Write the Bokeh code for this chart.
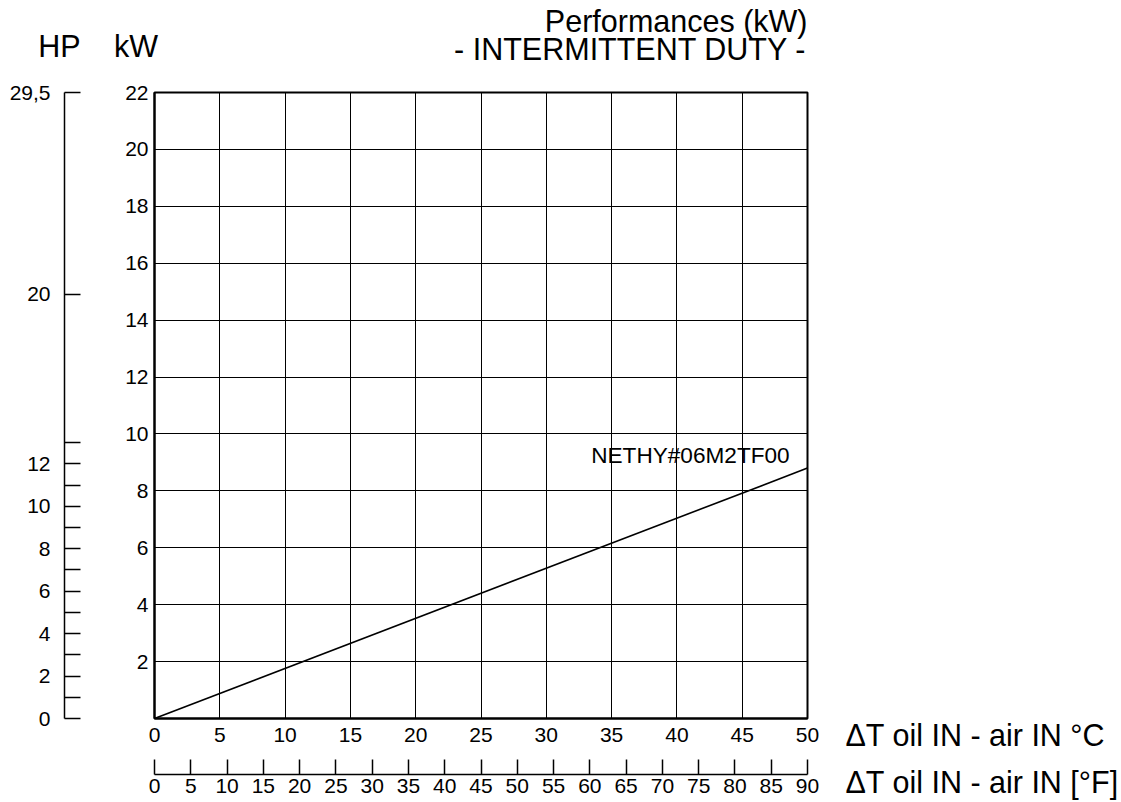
from bokeh.plotting import figure
from bokeh.models import Range1d, LinearAxis, FixedTicker
from bokeh.layouts import row, column
from bokeh.embed import file_html
from bokeh.resources import INLINE
from bokeh.core.properties import value

FONT = "Liberation Sans"

# ---- data ----
delta_t_c = [0, 50]          # °C
power_kw = [0, 8.8]          # kW
series_name = "NETHY#06M2TF00"
c_ticks = list(range(0, 51, 5))
f_ticks = list(range(0, 91, 5))
kw_ticks = list(range(2, 23, 2))
hp_ticks = [0, 1, 2, 3, 4, 5, 6, 7, 8, 9, 10, 11, 12, 13, 20, 29.5]
hp_labels = ["0", "", "2", "", "4", "", "6", "", "8", "", "10", "", "12", "", "20", "29,5"]
title_1 = "Performances (kW)"
title_2 = "- INTERMITTENT DUTY -"
hp_header = "HP"
kw_header = "kW"
c_label = "ΔT oil IN - air IN °C"
f_label = "ΔT oil IN - air IN [°F]"

TOP_H = 72
ROW_H = 729
RIGHT_W = 298
TICK_FS = 21
BIG_FS = 30.5
LABEL_FS = 22.6
SHIFT = 0.38          # empirical baseline correction of the text glyph (in em)


def style_axis(ax):
    ax.major_label_text_font = FONT
    ax.major_label_text_font_size = f"{TICK_FS}px"
    ax.major_label_text_color = "black"
    ax.minor_tick_line_color = None
    ax.axis_line_color = "black"
    ax.major_tick_line_color = "black"


def blank_fig(w, h, xr, yr):
    f = figure(width=w, height=h, x_range=xr, y_range=yr, output_backend="svg",
               toolbar_location=None, x_axis_location=None, y_axis_location=None,
               min_border=0, min_border_left=0, min_border_right=0,
               min_border_top=0, min_border_bottom=0, frame_align=False)
    f.outline_line_color = None
    f.grid.visible = False
    return f


def put_text(f, x, y, t, align, size=BIG_FS):
    f.text(x=[x], y=[y], text=[t], text_align=align, text_baseline="alphabetic",
           text_font=value(FONT), text_font_size=f"{size}px", text_color="black")


# ---- header strip (coordinates = page pixels, y downwards) ----
top = blank_fig(1120, TOP_H, Range1d(0, 1120), Range1d(TOP_H, 0))
sh = SHIFT * BIG_FS
put_text(top, 59, 57 - sh, hp_header, "center")
put_text(top, 135.5, 57 - sh, kw_header, "center")
put_text(top, 807, 32 - sh, title_1, "right")
put_text(top, 806, 60 - sh, title_2, "right")

# ---- HP axis figure ----
hp = figure(width=90, height=ROW_H, x_range=Range1d(0, 1), y_range=Range1d(0, 29.5),
            output_backend="svg", toolbar_location=None, x_axis_location=None,
            min_border_left=64, min_border_right=6, min_border_top=20,
            min_border_bottom=ROW_H - 20 - 626, frame_align=False)
hp.outline_line_color = None
hp.grid.visible = False
hax = hp.yaxis[0]
style_axis(hax)
hax.ticker = FixedTicker(ticks=hp_ticks)
hax.major_label_overrides = dict(zip(hp_ticks, hp_labels))
hax.major_tick_in = 16
hax.major_tick_out = 0
hax.axis_line_width = 1.5
hax.major_tick_line_width = 1.5
hax.major_label_standoff = 14

# ---- main figure ----
p = figure(width=732, height=ROW_H, x_range=Range1d(0, 50), y_range=Range1d(0, 22),
           output_backend="svg", toolbar_location=None,
           min_border_left=64, min_border_right=15, min_border_top=20,
           min_border_bottom=ROW_H - 20 - 626, frame_align=False)
p.extra_x_ranges = {"f": Range1d(0, 90)}
p.outline_line_color = "black"
p.outline_line_width = 2

xax = p.xaxis[0]
style_axis(xax)
xax.ticker = FixedTicker(ticks=c_ticks)
xax.major_tick_in = 0
xax.major_tick_out = 0
xax.major_label_standoff = 9
xax.axis_line_width = 2
xax.axis_label = " "
xax.axis_label_text_font_size = "10px"
xax.axis_label_standoff = 16

yax = p.yaxis[0]
style_axis(yax)
yax.ticker = FixedTicker(ticks=kw_ticks)
yax.major_tick_in = 0
yax.major_tick_out = 0
yax.major_label_standoff = 6
yax.axis_line_width = 2

fax = LinearAxis(x_range_name="f", ticker=FixedTicker(ticks=f_ticks))
style_axis(fax)
fax.major_tick_in = 15
fax.major_tick_out = 0
fax.major_label_standoff = 4
fax.axis_line_width = 1.5
fax.major_tick_line_width = 1.5
p.add_layout(fax, "below")

p.xgrid.grid_line_color = "black"
p.ygrid.grid_line_color = "black"
p.xgrid.grid_line_width = 1
p.ygrid.grid_line_width = 1

p.line(delta_t_c, power_kw, line_color="black", line_width=1.6)
put_text(p, 33.44, 8.93 + SHIFT * LABEL_FS * 22 / 626, series_name, "left", size=LABEL_FS)

# ---- right strip with axis titles (coordinates = page pixels, y downwards) ----
right = blank_fig(RIGHT_W, ROW_H, Range1d(822, 822 + RIGHT_W), Range1d(TOP_H + ROW_H, TOP_H))
put_text(right, 845, 746 - sh, c_label, "left")
put_text(right, 845, 793 - sh, f_label, "left")

layout = column(top, row(hp, p, right))
open("out.html", "w").write(file_html(layout, INLINE))
